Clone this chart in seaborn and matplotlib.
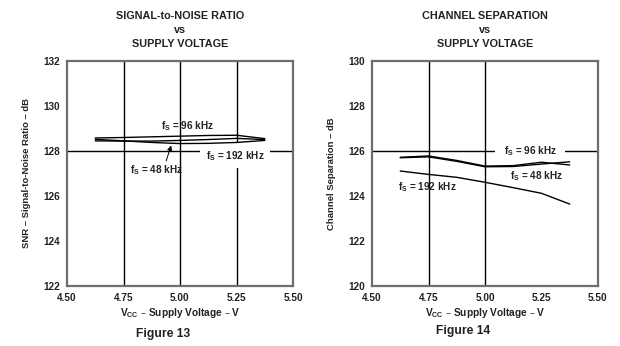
import matplotlib
matplotlib.use("Agg")
import matplotlib.pyplot as plt
import seaborn as sns
import pandas as pd

sns.set_theme(style="white")
plt.rcParams["font.family"] = ["Liberation Sans", "DejaVu Sans"]
plt.rcParams["mathtext.default"] = "regular"

# Supply voltage sweep (V)
vcc = [4.625, 4.75, 4.875, 5.0, 5.125, 5.25, 5.375]

# Signal-to-noise ratio (dB) per sample rate
snr_96k = [128.58, 128.60, 128.63, 128.66, 128.69, 128.70, 128.55]
snr_48k = [128.52, 128.45, 128.38, 128.33, 128.34, 128.38, 128.47]
snr_192k = [128.45, 128.44, 128.44, 128.47, 128.51, 128.56, 128.51]

# Channel separation (dB) per sample rate
sep_96k = [125.72, 125.78, 125.58, 125.33, 125.35, 125.50, 125.38]
sep_48k = [125.70, 125.74, 125.54, 125.30, 125.31, 125.42, 125.52]
sep_192k = [125.11, 124.96, 124.83, 124.61, 124.37, 124.12, 123.64]

series = ["96 kHz", "48 kHz", "192 kHz"]
x_ticks = [4.50, 4.75, 5.00, 5.25, 5.50]
snr_ticks = [122, 124, 126, 128, 130, 132]
sep_ticks = [120, 122, 124, 126, 128, 130]


def frame(values):
    rows = []
    for name, ys in zip(series, values):
        for v, y in zip(vcc, ys):
            rows.append({"vcc": v, "db": y, "fs": name})
    return pd.DataFrame(rows)


snr_df = frame([snr_96k, snr_48k, snr_192k])
sep_df = frame([sep_96k, sep_48k, sep_192k])

W, H = 620, 346
fig = plt.figure(figsize=(W / 100, H / 100), dpi=100)
ax1 = fig.add_axes([67 / W, 1 - 286 / H, 226 / W, 225 / H])
ax2 = fig.add_axes([372 / W, 1 - 286 / H, 226 / W, 225 / H])

ink = "#222222"
tick_kw = dict(fontsize=7.2, fontweight="bold", color=ink)


def style(ax, yticks, vgrid, hgrid, title, ylabel):
    ax.set_xlim(4.5, 5.5)
    ax.set_ylim(yticks[0], yticks[-1])
    for v in vgrid:
        ax.axvline(v, color="black", lw=1.0, zorder=1)
    ax.axhline(hgrid, color="black", lw=1.0, zorder=1)
    ax.set_xticks(x_ticks)
    ax.set_xticklabels([f"{t:.2f}" for t in x_ticks], **tick_kw)
    ax.set_yticks(yticks)
    ax.set_yticklabels([str(t) for t in yticks], **tick_kw)
    ax.tick_params(axis="x", length=0, pad=5)
    ax.tick_params(axis="y", length=0, pad=5)
    for s in ax.spines.values():
        s.set_color("#6e6e6e")
        s.set_linewidth(1.6)
    ax.set_xlabel("V$_{CC}$ – Supply Voltage – V", labelpad=2,
                  fontsize=7.3, fontweight="bold", color=ink)
    ax.set_ylabel(ylabel, labelpad=9, fontsize=6.8, fontweight="bold",
                  color=ink)
    ax.set_title(title, fontsize=7.8, fontweight="bold", color=ink,
                 pad=10, linespacing=1.5)


for ax, df in ((ax1, snr_df), (ax2, sep_df)):
    sns.lineplot(data=df, x="vcc", y="db", hue="fs",
                 palette=["black"] * 3, linewidth=1.0, legend=False,
                 ax=ax, zorder=3)

style(ax1, snr_ticks, [4.75, 5.00, 5.25], 128,
      "SIGNAL-to-NOISE RATIO\nvs\nSUPPLY VOLTAGE",
      "SNR – Signal-to-Noise Ratio – dB")
style(ax2, sep_ticks, [4.75, 5.00], 126,
      "CHANNEL SEPARATION\nvs\nSUPPLY VOLTAGE",
      "Channel Separation – dB")

ann_kw = dict(fontsize=7.2, fontweight="bold", color=ink,
              ha="center", va="center", zorder=2)
white = dict(facecolor="white", edgecolor="none", pad=4)

ax1.text(5.035, 129.1, "f$_S$ = 96 kHz", **ann_kw)
ax1.text(5.245, 127.78, "f$_S$ = 192 kHz", bbox=white, **ann_kw)
ax1.text(4.895, 127.16, "f$_S$ = 48 kHz", **ann_kw)
ax1.annotate("", xy=(4.965, 128.36), xytext=(4.935, 127.45),
             arrowprops=dict(arrowstyle="-|>", color="black", lw=0.7,
                             mutation_scale=7), zorder=4)

ax2.text(5.2, 126.0, "f$_S$ = 96 kHz", bbox=dict(facecolor="white",
         edgecolor="none", pad=6), **ann_kw)
ax2.text(5.23, 124.9, "f$_S$ = 48 kHz", **ann_kw)
ax2.text(4.745, 124.4, "f$_S$ = 192 kHz", **ann_kw)

fig.text(163 / W, 1 - 334 / H, "Figure 13", fontsize=8.7,
         fontweight="bold", color=ink, ha="center", va="center")
fig.text(463 / W, 1 - 331 / H, "Figure 14", fontsize=8.7,
         fontweight="bold", color=ink, ha="center", va="center")

fig.savefig("out.png", dpi=100)
